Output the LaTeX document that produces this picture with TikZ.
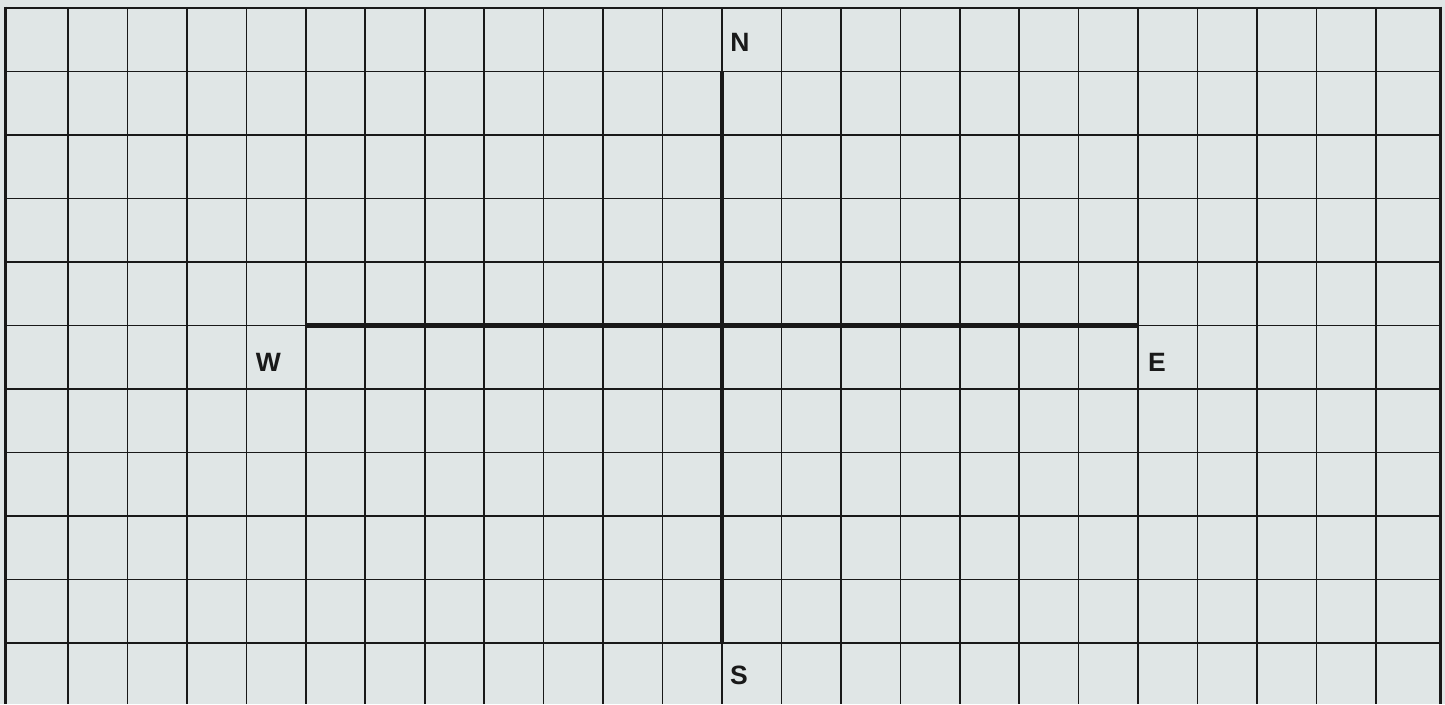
\documentclass[tikz,border=0pt]{standalone}
\usepackage{fontspec}
\setmainfont{Liberation Sans}
\definecolor{paper}{RGB}{224,230,230}
\definecolor{ink}{RGB}{25,25,25}
\begin{document}
\begin{tikzpicture}[x=1pt,y=-1pt,
  gridline/.style={draw=ink,line width=1.6pt},
  borderline/.style={draw=ink,line width=3pt},
  axisline/.style={draw=ink,line width=4.8pt},
  compass/.style={font=\fontsize{26.5}{28}\selectfont\bfseries,text=ink,inner sep=0pt,anchor=base}]
\fill[paper] (0,0) rectangle (1445,704);
\useasboundingbox (0,0) rectangle (1445,704);
% grid
\foreach \k in {0,...,22}{
  \draw[gridline] ({68+59.45*\k},8) -- ({68+59.45*\k},704);
}
\foreach \k in {1,...,10}{
  \draw[gridline] (5,{8+63.5*\k}) -- (1440,{8+63.5*\k});
}
\draw[gridline] (5,8) -- (1440,8);
\draw[borderline] (5,6.5) -- (5,704);
\draw[borderline] (1440,6.5) -- (1440,704);
% axes
\coordinate (ntop) at (721.95,71.5);
\coordinate (sbot) at (721.95,643);
\coordinate (wend) at (305.8,325.5);
\coordinate (eend) at (1138.1,325.5);
\draw[axisline] (ntop) -- (sbot);
\draw[axisline] (wend) -- (eend);
% labels
\node[compass] (N) at (740,51) {N};
\node[compass] (W) at (268.5,371) {W};
\node[compass] (E) at (1157,371) {E};
\node[compass] (S) at (739,684.5) {S};
\end{tikzpicture}
\end{document}
